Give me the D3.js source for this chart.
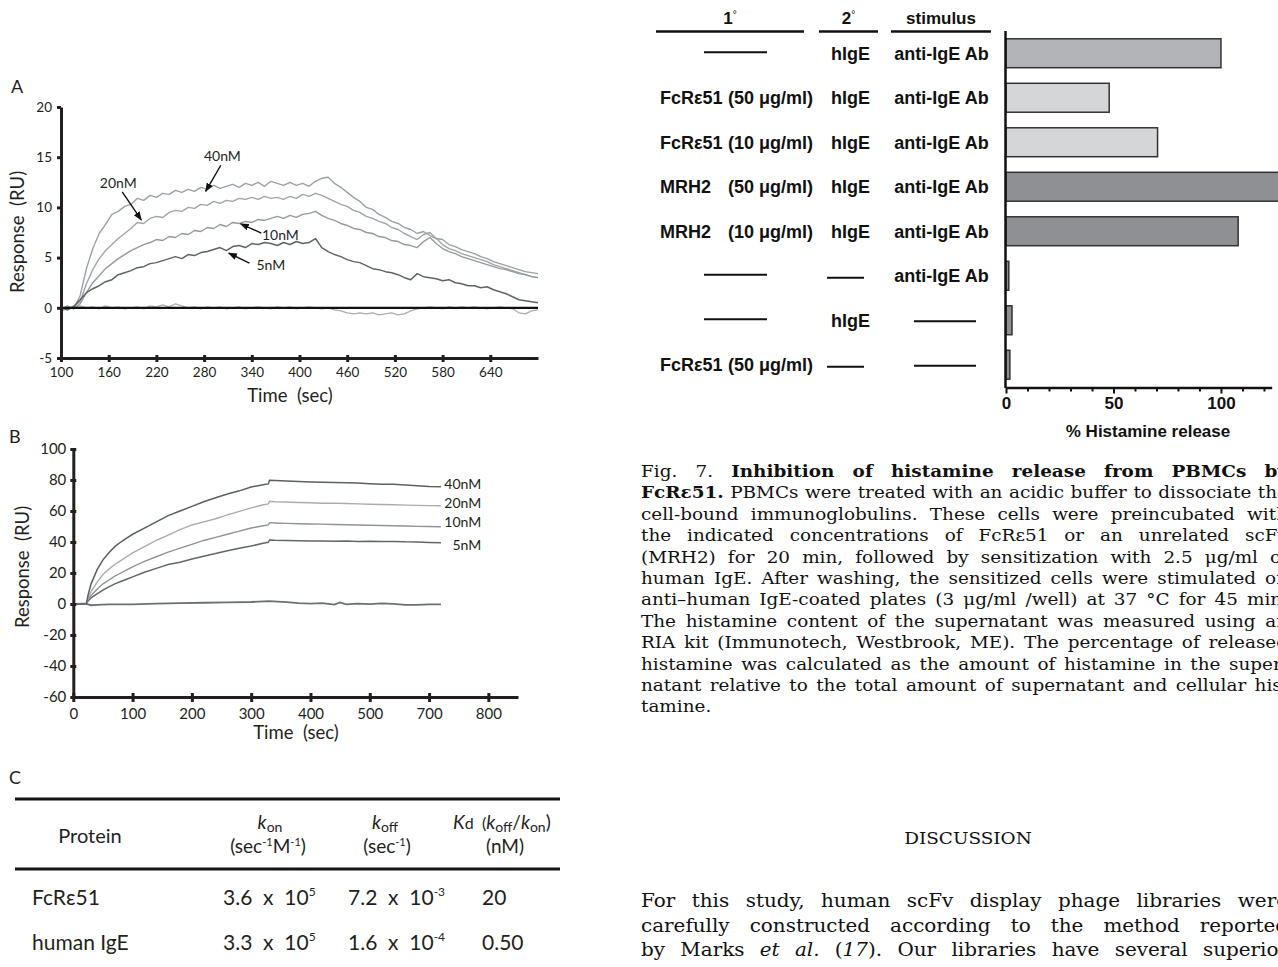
<!DOCTYPE html>
<html><head><meta charset="utf-8">
<script src="https://cdn.jsdelivr.net/npm/d3@7"></script>
<style>
html,body{margin:0;padding:0;background:#fff;}
svg{display:block;}
text{white-space:pre;}
</style></head><body>
<svg id="fig" width="1278" height="967"></svg>
<script>
// ---------------- DATA ----------------
// Panel A (sensorgram, FcRε51 on IgE chip)
const timeA = [100,108,116,124,132,140,148,156,164,172,
  180,188,196,204,212,220,228,236,244,252,
  260,268,276,284,292,300,308,316,324,332,
  340,348,356,364,372,380,388,396,404,412,
  420,428,436,444,452,460,468,476,484,492,
  500,508,516,524,532,540,548,556,564,572,
  580,588,596,604,612,620,628,636,644,652,
  660,668,676,684,692,700];
const respA40 = [-0.2,0.1,-0.1,1.2,3.9,5.9,7.4,8.3,9.3,9.6,
  10.1,10.3,10.9,10.7,11.2,11.0,11.4,11.3,11.7,11.5,
  11.8,11.6,12.0,11.8,12.2,11.9,12.1,12.3,12.0,12.4,
  12.2,12.5,12.1,12.6,12.4,12.2,12.5,12.2,12.4,12.1,
  12.6,12.9,13.0,12.4,12.0,11.5,11.0,10.6,10.0,9.8,
  9.3,9.0,8.6,8.4,8.0,7.8,7.4,7.6,7.2,6.9,
  6.8,6.3,6.1,5.8,5.6,5.4,5.1,4.9,4.6,4.4,
  4.2,4.0,3.8,3.6,3.5,3.4];
const respA20 = [0.1,-0.2,0.2,0.6,2.4,3.8,4.9,5.7,6.3,6.9,
  7.4,7.9,8.5,8.4,8.9,9.1,9.0,9.5,9.7,9.6,
  10.0,9.9,10.3,10.2,10.6,10.4,10.7,10.6,10.9,10.8,
  11.0,10.8,11.1,10.9,11.0,10.8,11.1,10.9,11.3,11.1,
  11.4,11.2,10.9,10.6,10.3,10.1,9.7,9.5,9.1,8.9,
  8.6,8.4,8.0,7.8,7.4,7.1,6.8,7.3,7.5,6.9,
  6.3,5.9,5.7,5.4,5.2,5.0,4.8,4.6,4.3,4.1,
  3.9,3.7,3.5,3.3,3.1,3.0];
const respA10 = [-0.1,0.2,-0.1,0.4,1.5,2.5,3.2,3.9,4.4,4.9,
  5.3,5.7,6.0,6.3,6.5,6.8,6.7,7.1,7.0,7.4,
  7.3,7.7,7.6,8.0,7.9,8.3,8.1,8.5,8.4,8.6,
  8.5,8.8,8.7,8.9,9.1,8.9,9.2,9.0,9.3,9.4,
  9.6,9.2,8.9,8.7,8.4,8.2,7.9,7.8,7.5,7.4,
  7.1,7.0,6.7,6.6,6.3,6.2,6.0,6.6,7.0,6.4,
  5.9,5.6,5.4,5.1,4.9,4.7,4.5,4.3,4.1,3.9,
  3.8,3.6,3.4,3.3,3.1,3.0];
const respA5 = [0.0,-0.2,0.1,0.8,1.5,1.9,2.2,2.6,2.8,3.3,
  3.5,3.7,4.0,4.1,4.4,4.5,4.7,4.9,5.1,4.9,
  5.3,5.2,5.5,5.6,5.8,6.0,5.7,6.1,6.2,6.0,
  6.4,6.3,6.5,6.4,6.2,6.5,6.3,6.6,6.4,6.5,
  6.9,6.0,5.6,5.3,5.1,4.8,4.6,4.5,4.2,3.9,
  3.8,3.6,3.5,3.3,3.0,2.8,3.4,3.1,3.0,2.9,
  2.7,2.8,2.5,2.4,2.2,2.2,2.0,2.1,1.8,1.6,
  1.4,1.1,0.8,0.7,0.6,0.5];
const respA0 = [-0.3,-0.1,0.1,0.2,0.0,0.1,-0.1,0.2,0.0,0.1,
  -0.1,0.0,0.1,-0.1,0.2,0.1,0.3,0.1,0.4,0.2,
  0.0,0.1,-0.1,0.1,0.0,0.1,-0.1,0.0,0.1,-0.1,
  0.0,0.1,0.0,-0.1,0.1,0.0,0.1,-0.1,0.0,0.1,
  0.0,-0.1,0.0,-0.2,-0.3,-0.5,-0.6,-0.5,-0.6,-0.5,
  -0.7,-0.6,-0.5,-0.7,-0.6,-0.3,-0.1,0.0,0.1,0.0,
  -0.1,0.1,0.0,0.1,0.0,0.1,0.0,-0.1,0.0,0.1,
  0.0,-0.1,-0.5,-0.6,-0.3,-0.2];
const ticksAx = [100,160,220,280,340,400,460,520,580,640];
const ticksAy = [-5,0,5,10,15,20];
const annotA = [
  {label:"40nM", tx:303, ty:15.1, x1:301, y1:14.2, x2:282, y2:11.6},
  {label:"20nM", tx:172, ty:12.45, x1:177, y1:11.55, x2:201, y2:8.75},
  {label:"10nM", tx:376, ty:7.27, x1:352, y1:7.44, x2:326, y2:8.37},
  {label:"5nM",  tx:364, ty:4.28, x1:337, y1:4.45, x2:311, y2:5.45}
];

// Panel B (sensorgram, human IgE)
const timeB = [0,22,25,30,40,50,60,70,80,90,
  100,120,140,160,180,200,220,240,260,280,
  300,320,329,331,340,360,380,400,420,440,
  460,480,500,520,540,560,580,600,620];
const respB40 = [0,0,6,13,22,28.5,33,37,40,42.5,
  45,49,53,57,60,63,66,68.5,71,73,
  75.5,77,77.5,79.8,79.6,79.3,79.0,78.7,78.5,78.4,
  78.2,78.0,77.6,77.3,77.2,76.8,76.3,75.8,75.6];
const respB20 = [0,0,4,8,14,19,22.5,25.5,28,30.5,
  33,37,41,44.5,48,51,53,55,57.5,59.8,
  62,64,64.6,66.3,66.0,65.8,65.5,65.3,65.0,65.1,
  64.8,64.6,64.4,64.2,64.0,63.8,63.6,63.5,63.4];
const respB10 = [0,0,3,5.5,9.5,13,15.5,18,20,22,
  24,27.5,30.5,33.5,36,38.5,41,43,45,47,
  49,50.5,51,52.5,52.3,52.0,51.8,51.6,51.5,51.3,
  51.1,51.0,50.8,50.6,50.5,50.3,50.1,50.0,49.8];
const respB5 = [0,0,2,4,6.5,9,11,13,14.5,16,
  17.5,20.5,23,25.5,27,29,30.8,32.6,34.3,35.9,
  37.4,39.2,39.8,41.3,41.1,40.9,40.8,40.7,40.6,40.5,
  40.6,40.4,40.5,40.3,40.4,40.1,40.0,39.7,39.5];
const timeB0 = [0,20,30,40,60,100,140,180,220,260,300,330,360,380,400,420,440,450,460,480,500,520,540,560,580,600,620];
const respB0 = [0,0.2,-0.8,-0.6,-0.3,-0.2,0.2,0.5,0.8,1.0,1.3,1.8,1.2,0.5,0.2,0.6,-0.4,1.0,-0.2,0.3,-0.1,0.4,0.1,-0.5,-0.6,-0.3,-0.2];
const ticksBx = [0,100,200,300,400,500,600,700];
const tickLabelsBx = ["0","100","200","300","400","500","700","800"];
const ticksBy = [-60,-40,-20,0,20,40,60,80,100];
const labelsB = [{label:"40nM", v:77.4},{label:"20nM", v:65.2},{label:"10nM", v:53.1},{label:"5nM", v:38.1}];

// Panel C (kinetics table)
const proteins = ["FcRε51","human IgE"];
const konMant = ["3.6","3.3"], konExp = ["5","5"];
const koffMant = ["7.2","1.6"], koffExp = ["-3","-4"];
const kdVals = ["20","0.50"];

// Fig. 7 (histamine release)
const condPrimary = ["","FcRε51","FcRε51","MRH2","MRH2","","","FcRε51"];
const condConc = ["","(50 μg/ml)","(10 μg/ml)","(50 μg/ml)","(10 μg/ml)","","","(50 μg/ml)"];
const condSecondary = ["hIgE","hIgE","hIgE","hIgE","hIgE","","hIgE",""];
const condStimulus = ["anti-IgE Ab","anti-IgE Ab","anti-IgE Ab","anti-IgE Ab","anti-IgE Ab","anti-IgE Ab","",""];
const histRelease = [100,48,70.5,130,108,1.3,2.8,1.8];
const barTone = ["mid","light","light","dark","dark","dark","dark","dark"];
const histTicks = [0,10,20,30,40,50,60,70,80,90,100,110,120];
const histTickLabels = {0:"0",50:"50",100:"100"};

const captionLines = [
 "Fig. 7. **Inhibition of histamine release from PBMCs by**",
 "**FcRε51.** PBMCs were treated with an acidic buffer to dissociate the",
 "cell-bound immunoglobulins. These cells were preincubated with",
 "the indicated concentrations of FcRε51 or an unrelated scFv",
 "(MRH2) for 20 min, followed by sensitization with 2.5 μg/ml of",
 "human IgE. After washing, the sensitized cells were stimulated on",
 "anti–human IgE-coated plates (3 μg/ml /well) at 37 °C for 45 min.",
 "The histamine content of the supernatant was measured using an",
 "RIA kit (Immunotech, Westbrook, ME). The percentage of released",
 "histamine was calculated as the amount of histamine in the super-",
 "natant relative to the total amount of supernatant and cellular his-",
 "tamine."
];
const discussionLines = [
 "For this study, human scFv display phage libraries were",
 "carefully constructed according to the method reported",
 "by Marks _et al_. (_17_). Our libraries have several superior"
];

// ---------------- DRAWING ----------------
const svg = d3.select("#fig");
const INK = "#231f20";
const SANS = "Lato, 'Open Sans', sans-serif";
const BOLD = "'Liberation Sans', Arial, sans-serif";
const SERIF = "'DejaVu Serif', serif";
const numFmt = d => String(d);

const defs = svg.append("defs");
defs.append("marker").attr("id","arr").attr("viewBox","0 0 10 10")
  .attr("refX",9).attr("refY",5).attr("markerWidth",9).attr("markerHeight",9)
  .attr("markerUnits","userSpaceOnUse").attr("orient","auto")
  .append("path").attr("d","M0,1.2 L10,5 L0,8.8 z").attr("fill","#111");

function styleAxis(g, fs){
  g.attr("font-family",SANS).attr("font-size",fs);
  g.select(".domain").attr("stroke",INK).attr("stroke-width",3);
  g.selectAll(".tick line").attr("stroke",INK).attr("stroke-width",3);
  g.selectAll(".tick text").attr("fill",INK);
}

// ---- Panel A ----
const xA = d3.scaleLinear().domain([100,700]).range([61,538]);
const yA = d3.scaleLinear().domain([-5,20]).range([358,107]);
const gA = svg.append("g");
const lineA = vals => d3.line().x((d,i)=>xA(timeA[i])).y(d=>yA(d))(vals);
[[respA0,"#a9aeb1",1.3],[respA40,"#9ba2a7",1.4],[respA20,"#9fa5a9",1.4],[respA10,"#949a9e",1.4],[respA5,"#5f6468",1.5]]
  .forEach(([v,c,w])=>gA.append("path").attr("d",lineA(v)).attr("fill","none").attr("stroke",c).attr("stroke-width",w).attr("stroke-linejoin","round"));
gA.append("line").attr("x1",xA(100)).attr("x2",xA(700)).attr("y1",yA(0)).attr("y2",yA(0)).attr("stroke","#111").attr("stroke-width",2.2);

const axAy = gA.append("g").attr("transform",`translate(${xA(100)},0)`)
  .call(d3.axisLeft(yA).tickValues(ticksAy).tickFormat(numFmt).tickSizeInner(4).tickSizeOuter(0).tickPadding(5));
styleAxis(axAy,13.5);
const axAx = gA.append("g").attr("transform",`translate(0,${yA(-5)})`)
  .call(d3.axisBottom(xA).tickValues(ticksAx).tickFormat(numFmt).tickSizeInner(4).tickSizeOuter(0).tickPadding(5));
styleAxis(axAx,13.5);
axAx.selectAll(".tick line").attr("y1",-3).attr("y2",4);

gA.append("text").attr("x",11).attr("y",93).attr("font-family",SANS).attr("font-size",18).attr("fill",INK).text("A");
gA.append("text").attr("transform","translate(24,232) rotate(-90)").attr("text-anchor","middle")
  .attr("font-family",SANS).attr("font-size",18.5).attr("fill",INK).text("Response  (RU)");
gA.append("text").attr("x",290).attr("y",402).attr("text-anchor","middle")
  .attr("font-family",SANS).attr("font-size",18.5).attr("fill",INK).text("Time  (sec)");
annotA.forEach(a=>{
  gA.append("line").attr("x1",xA(a.x1)).attr("y1",yA(a.y1)).attr("x2",xA(a.x2)).attr("y2",yA(a.y2))
    .attr("stroke","#111").attr("stroke-width",1.4).attr("marker-end","url(#arr)");
  gA.append("text").attr("x",xA(a.tx)).attr("y",yA(a.ty)).attr("dy","0.36em").attr("text-anchor","middle")
    .attr("font-family",SANS).attr("font-size",14).attr("fill",INK).text(a.label);
});

// ---- Panel B ----
const xB = d3.scaleLinear().domain([0,750]).range([73.3,518]);
const yB = d3.scaleLinear().domain([-60,100]).range([697,449]);
const gB = svg.append("g");
const lineB = (t,v) => d3.line().x((d,i)=>xB(t[i])).y(d=>yB(d))(v);
[[timeB0,respB0,"#6b7073",1.8],[timeB,respB5,"#62676a",1.5],[timeB,respB10,"#8f9497",1.4],[timeB,respB20,"#a9adb0",1.4],[timeB,respB40,"#5b6064",1.5]]
  .forEach(([t,v,c,w])=>gB.append("path").attr("d",lineB(t,v)).attr("fill","none").attr("stroke",c).attr("stroke-width",w));
const axBy = gB.append("g").attr("transform",`translate(${xB(0)},0)`)
  .call(d3.axisLeft(yB).tickValues(ticksBy).tickFormat(numFmt).tickSizeInner(3).tickSizeOuter(0).tickPadding(4));
styleAxis(axBy,15);
axBy.selectAll(".tick line").attr("x1",3);
const axBx = gB.append("g").attr("transform",`translate(0,${yB(-60)})`)
  .call(d3.axisBottom(xB).tickValues(ticksBx).tickFormat((d,i)=>tickLabelsBx[i]).tickSizeInner(5).tickSizeOuter(0).tickPadding(6));
styleAxis(axBx,15);
axBx.selectAll(".tick line").attr("y1",-4).attr("y2",5);
gB.append("text").attr("x",9).attr("y",443).attr("font-family",SANS).attr("font-size",18).attr("fill",INK).text("B");
gB.append("text").attr("transform","translate(29,567) rotate(-90)").attr("text-anchor","middle")
  .attr("font-family",SANS).attr("font-size",18.5).attr("fill",INK).text("Response  (RU)");
gB.append("text").attr("x",296).attr("y",739).attr("text-anchor","middle")
  .attr("font-family",SANS).attr("font-size",18.5).attr("fill",INK).text("Time  (sec)");
labelsB.forEach(l=>gB.append("text").attr("x",xB(688)).attr("y",yB(l.v)).attr("dy","0.36em").attr("text-anchor","end")
  .attr("font-family",SANS).attr("font-size",14).attr("fill",INK).text(l.label));

// ---- Panel C (table) ----
const gC = svg.append("g").attr("font-family",SANS).attr("fill",INK);
gC.append("text").attr("x",9).attr("y",784).attr("font-size",18).text("C");
gC.append("line").attr("x1",15).attr("x2",560).attr("y1",799).attr("y2",799).attr("stroke","#111").attr("stroke-width",3);
gC.append("line").attr("x1",15).attr("x2",560).attr("y1",869).attr("y2",869).attr("stroke","#111").attr("stroke-width",3);
gC.append("text").attr("x",90).attr("y",843).attr("text-anchor","middle").attr("font-size",20).text("Protein");
function kSym(g,x,y,sub,anchor){
  const t=g.append("text").attr("x",x).attr("y",y).attr("text-anchor",anchor||"middle").attr("font-size",19);
  t.append("tspan").attr("font-style","italic").text("k");
  t.append("tspan").attr("font-size",14).attr("dy",3).text(sub);
  return t;
}
kSym(gC,270,829,"on");
kSym(gC,385,829,"off");
{ const t=gC.append("text").attr("x",268).attr("y",853).attr("text-anchor","middle").attr("font-size",19);
  t.append("tspan").text("(sec");
  t.append("tspan").attr("font-size",11).attr("dy",-7).text("-1");
  t.append("tspan").attr("dy",7).text("M");
  t.append("tspan").attr("font-size",11).attr("dy",-7).text("-1");
  t.append("tspan").attr("dy",7).text(")"); }
{ const t=gC.append("text").attr("x",387).attr("y",853).attr("text-anchor","middle").attr("font-size",19);
  t.append("tspan").text("(sec");
  t.append("tspan").attr("font-size",11).attr("dy",-7).text("-1");
  t.append("tspan").attr("dy",7).text(")"); }
{ const t=gC.append("text").attr("x",453).attr("y",829).attr("font-size",19);
  t.append("tspan").attr("font-style","italic").text("K");
  t.append("tspan").attr("font-size",16).text("d  (");
  t.append("tspan").attr("font-style","italic").text("k");
  t.append("tspan").attr("font-size",14).attr("dy",3).text("off");
  t.append("tspan").attr("dy",-3).text("/");
  t.append("tspan").attr("font-style","italic").text("k");
  t.append("tspan").attr("font-size",14).attr("dy",3).text("on");
  t.append("tspan").attr("dy",-3).text(")"); }
gC.append("text").attr("x",505).attr("y",853).attr("text-anchor","middle").attr("font-size",19).text("(nM)");
const rowY = [905, 950];
proteins.forEach((p,i)=>{
  gC.append("text").attr("x",32).attr("y",rowY[i]).attr("font-size",21).text(p);
  const a=gC.append("text").attr("x",223).attr("y",rowY[i]).attr("font-size",21);
  a.append("tspan").text(konMant[i]+"  x  10");
  a.append("tspan").attr("font-size",12).attr("dy",-9).text(konExp[i]);
  const b=gC.append("text").attr("x",348).attr("y",rowY[i]).attr("font-size",21);
  b.append("tspan").text(koffMant[i]+"  x  10");
  b.append("tspan").attr("font-size",12).attr("dy",-9).text(koffExp[i]);
  gC.append("text").attr("x",482).attr("y",rowY[i]).attr("font-size",21).text(kdVals[i]);
});

// ---- Fig. 7 bar chart ----
const gH = svg.append("g").attr("font-family",BOLD).attr("font-weight","bold").attr("fill","#111");
const xH = d3.scaleLinear().domain([0,123.6]).range([1006,1271.7]);
const yH = d3.scaleBand().domain(d3.range(8)).range([31,387]).paddingInner(0.35).paddingOuter(0.175);
const toneColor = {mid:"#b2b4b7", light:"#d4d6d8", dark:"#8e9094"};
gH.selectAll("rect.bar").data(histRelease).join("rect").attr("class","bar")
  .attr("x",xH(0)).attr("y",(d,i)=>yH(i)).attr("width",d=>xH(d)-xH(0)).attr("height",yH.bandwidth())
  .attr("fill",(d,i)=>toneColor[barTone[i]]).attr("stroke","#333").attr("stroke-width",1.5);
gH.append("line").attr("x1",1005.5).attr("x2",1005.5).attr("y1",31).attr("y2",388).attr("stroke","#111").attr("stroke-width",2.5);
const axH = gH.append("g").attr("transform","translate(0,387.5)")
  .call(d3.axisBottom(xH).tickValues(histTicks).tickFormat(d=>histTickLabels[d]||"").tickSizeInner(5).tickSizeOuter(0).tickPadding(4));
axH.attr("font-family",BOLD).attr("font-size",17).attr("font-weight","bold");
axH.select(".domain").attr("stroke","#111").attr("stroke-width",2.5);
axH.selectAll(".tick line").attr("stroke","#111").attr("stroke-width",2).attr("y2",d=>histTickLabels[d]?6:4);
axH.selectAll(".tick text").attr("fill","#111");
gH.append("text").attr("x",1148).attr("y",437).attr("text-anchor","middle").attr("font-size",17).text("% Histamine release");

// headers
const hdr = [{t:"1",x:730,x1:656,x2:804},{t:"2",x:848.5,x1:819,x2:878},{t:"stimulus",x:941,x1:891,x2:991}];
hdr.forEach(h=>{
  const t=gH.append("text").attr("x",h.x).attr("y",24).attr("text-anchor","middle").attr("font-size",17);
  t.append("tspan").text(h.t);
  if(h.t.length===1) t.append("tspan").attr("font-size",10).attr("dy",-6).attr("font-weight","normal").text("°");
  gH.append("line").attr("x1",h.x1).attr("x2",h.x2).attr("y1",31.5).attr("y2",31.5).attr("stroke","#111").attr("stroke-width",2.5);
});
function dash(x1,x2,y){ gH.append("line").attr("x1",x1).attr("x2",x2).attr("y1",y).attr("y2",y).attr("stroke","#111").attr("stroke-width",2.2); }
d3.range(8).forEach(i=>{
  const cy = yH(i)+yH.bandwidth()/2;
  if(condPrimary[i]){
    gH.append("text").attr("x",660).attr("y",cy).attr("dy","0.36em").attr("font-size",18).text(condPrimary[i]);
    gH.append("text").attr("x",728).attr("y",cy).attr("dy","0.36em").attr("font-size",18).text(condConc[i]);
  } else dash(704,767,cy-1);
  if(condSecondary[i]) gH.append("text").attr("x",850.5).attr("y",cy).attr("dy","0.36em").attr("text-anchor","middle").attr("font-size",18).text(condSecondary[i]);
  else dash(827,864,cy+2);
  if(condStimulus[i]) gH.append("text").attr("x",941.5).attr("y",cy).attr("dy","0.36em").attr("text-anchor","middle").attr("font-size",18).text(condStimulus[i]);
  else dash(914,976,cy+1);
});

// ---- Caption & discussion text (justified) ----
function parseRuns(str){
  const runs=[]; let b=false, it=false, buf="";
  const flush=()=>{ if(buf){ runs.push({t:buf,b:b,i:it}); buf=""; } };
  for(let k=0;k<str.length;k++){
    if(str.startsWith("**",k)){ flush(); b=!b; k++; continue; }
    if(str[k]==="_"){ flush(); it=!it; continue; }
    buf+=str[k];
  }
  flush(); return runs;
}
function toWords(runs){
  const words=[]; let cur=[];
  runs.forEach(r=>{
    r.t.split(" ").forEach((p,k)=>{
      if(k>0){ if(cur.length) words.push(cur); cur=[]; }
      if(p) cur.push({t:p,b:r.b,i:r.i});
    });
  });
  if(cur.length) words.push(cur);
  return words;
}
function drawJustified(g, line, x0, x1, y, fs, sx, justify){
  const words = toWords(parseRuns(line));
  const lg = g.append("g").attr("transform",`translate(${x0},${y}) scale(${sx},1)`);
  const nodes = words.map(w=>{
    const t=lg.append("text").attr("y",0).attr("font-family",SERIF).attr("font-size",fs).attr("fill","#111");
    w.forEach(p=>t.append("tspan").attr("font-weight",p.b?"bold":"normal").attr("font-style",p.i?"italic":"normal").text(p.t));
    return t;
  });
  const widths = nodes.map(n=>n.node().getComputedTextLength());
  const total = d3.sum(widths);
  const avail = (x1-x0)/sx;
  let gap = (justify && words.length>1) ? (avail-total)/(words.length-1) : fs*0.32;
  if(gap < fs*0.2) gap = fs*0.2;
  let x=0;
  nodes.forEach((n,k)=>{ n.attr("x",x); x+=widths[k]+gap; });
}
const gT = svg.append("g");
captionLines.forEach((l,i)=>drawJustified(gT,l,641,1288,477+i*21.4,16,1.15,i<captionLines.length-1));
gT.append("text").attr("transform","translate(968,844) scale(1.15,1)").attr("text-anchor","middle")
  .attr("font-family",SERIF).attr("font-size",16).attr("fill","#111").text("DISCUSSION");
discussionLines.forEach((l,i)=>drawJustified(gT,l,641,1288,907+i*24.5,19,1.05,true));
</script></body></html>
